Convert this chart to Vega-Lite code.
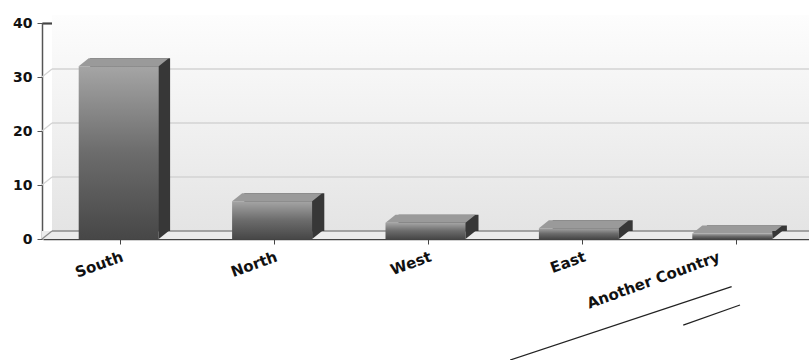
{
  "$schema": "https://vega.github.io/schema/vega-lite/v6.json",
  "width": 767,
  "height": 216,
  "autosize": {"type": "none"},
  "padding": {"left": 42, "top": 23, "right": 0, "bottom": 121},
  "background": "white",
  "config": {
    "view": {"stroke": null},
    "font": "DejaVu Sans",
    "axisY": {
      "grid": false,
      "labelFont": "DejaVu Sans",
      "labelFontWeight": "bold",
      "labelFontSize": 14,
      "labelColor": "#111111",
      "labelPadding": 5,
      "tickSize": 5,
      "tickColor": "#555555",
      "domainColor": "#555555",
      "domainWidth": 1.5,
      "zindex": 1
    },
    "axisX": {
      "grid": false,
      "labelAngle": -20,
      "labelAlign": "right",
      "labelBaseline": "top",
      "labelFont": "DejaVu Sans",
      "labelFontWeight": "bold",
      "labelFontSize": 15,
      "labelColor": "#111111",
      "labelPadding": 5,
      "labelOverlap": false,
      "tickSize": 5,
      "tickColor": "#444444",
      "domainColor": "#444444",
      "domainWidth": 1.5,
      "zindex": 1
    }
  },
  "datasets": {
    "sales": [
      {"region": "South", "count": 32},
      {"region": "North", "count": 7},
      {"region": "West", "count": 3},
      {"region": "East", "count": 2},
      {"region": "Another Country", "count": 1}
    ],
    "grid": [{"v": 10}, {"v": 20}, {"v": 30}],
    "strokes": [
      {"seg": "a", "u": 3.029, "v": -22.41},
      {"seg": "a", "u": 4.466, "v": -8.83},
      {"seg": "b", "u": 4.152, "v": -15.93},
      {"seg": "b", "u": 4.52, "v": -12.22}
    ]
  },
  "resolve": {"scale": {"x": "independent"}},
  "layer": [
    {
      "data": {"values": [{}]},
      "mark": {
        "type": "rect",
        "xOffset": 10,
        "yOffset": -8,
        "y2Offset": -8,
        "color": {
          "x1": 0, "y1": 0, "x2": 0, "y2": 1, "gradient": "linear",
          "stops": [{"offset": 0, "color": "#fdfdfd"}, {"offset": 1, "color": "#e4e4e4"}]
        }
      },
      "encoding": {
        "x": {"value": 0},
        "x2": {"value": "width"},
        "y": {"datum": 40, "type": "quantitative", "title": null, "scale": {"domain": [0, 40], "nice": false},
              "axis": {"values": [0, 10, 20, 30, 40]}},
        "y2": {"datum": 0}
      }
    },
    {
      "data": {"values": [{}]},
      "mark": {"type": "rect", "y2Offset": -8, "color": "#ececec"},
      "encoding": {
        "x": {"value": 0},
        "x2": {"value": "width"},
        "y": {"datum": 0, "type": "quantitative", "title": null, "axis": {"values": [0, 10, 20, 30, 40]}},
        "y2": {"datum": 0}
      }
    },
    {
      "data": {"name": "grid"},
      "mark": {"type": "rule", "yOffset": -8, "color": "#d3d3d3", "strokeWidth": 1.5},
      "encoding": {
        "x": {"value": 10},
        "x2": {"value": "width"},
        "y": {"field": "v", "type": "quantitative", "title": null, "axis": {"values": [0, 10, 20, 30, 40]}}
      }
    },
    {
      "data": {"name": "grid"},
      "mark": {"type": "rule", "y2Offset": -8, "color": "#d3d3d3", "strokeWidth": 1.2},
      "encoding": {
        "x": {"value": 0},
        "x2": {"value": 10},
        "y": {"field": "v", "type": "quantitative", "title": null, "axis": {"values": [0, 10, 20, 30, 40]}},
        "y2": {"field": "v"}
      }
    },
    {
      "data": {"values": [{}]},
      "mark": {"type": "rule", "yOffset": -8, "color": "#8c8c8c", "strokeWidth": 1.3},
      "encoding": {
        "x": {"value": 10},
        "x2": {"value": "width"},
        "y": {"datum": 0, "type": "quantitative", "title": null, "axis": {"values": [0, 10, 20, 30, 40]}}
      }
    },
    {
      "data": {"values": [{}]},
      "mark": {"type": "rule", "y2Offset": -8, "color": "#8c8c8c", "strokeWidth": 1.2},
      "encoding": {
        "x": {"value": 0},
        "x2": {"value": 10},
        "y": {"datum": 0, "type": "quantitative", "title": null, "axis": {"values": [0, 10, 20, 30, 40]}},
        "y2": {"datum": 0}
      }
    },
    {
      "data": {"name": "sales"},
      "mark": {"type": "bar", "width": 80, "xOffset": 10, "yOffset": -8, "y2Offset": -8, "color": "#373737"},
      "encoding": {
        "x": {"field": "region", "type": "nominal", "sort": null, "title": null,
              "scale": {"type": "band", "range": [1, 772], "paddingInner": 0, "paddingOuter": 0},
              "axis": {"labelOffset": {"condition": {"test": "datum.value === 'Another Country'", "value": -20}, "value": 0}}},
        "y": {"field": "count", "type": "quantitative", "title": null, "axis": {"values": [0, 10, 20, 30, 40]}},
        "y2": {"datum": 0}
      }
    },
    {
      "data": {"name": "sales"},
      "mark": {
        "type": "bar",
        "width": 80,
        "color": {
          "x1": 0, "y1": 0, "x2": 0, "y2": 1, "gradient": "linear",
          "stops": [{"offset": 0, "color": "#a5a5a5"}, {"offset": 0.5, "color": "#6c6c6c"}, {"offset": 1, "color": "#474747"}]
        }
      },
      "encoding": {
        "x": {"field": "region", "type": "nominal", "sort": null, "title": null,
              "axis": {"labelOffset": {"condition": {"test": "datum.value === 'Another Country'", "value": -20}, "value": 0}}},
        "y": {"field": "count", "type": "quantitative", "title": null, "axis": {"values": [0, 10, 20, 30, 40]}},
        "y2": {"datum": 0}
      }
    },
    {
      "data": {"name": "sales"},
      "mark": {"type": "point", "shape": "M -40 0 L 40 0 L 50 -8 L -30 -8 Z", "size": 4, "filled": true, "opacity": 1, "strokeWidth": 0, "color": "#9a9a9a"},
      "encoding": {
        "x": {"field": "region", "type": "nominal", "sort": null, "title": null,
              "axis": {"labelOffset": {"condition": {"test": "datum.value === 'Another Country'", "value": -20}, "value": 0}}},
        "y": {"field": "count", "type": "quantitative", "title": null, "axis": {"values": [0, 10, 20, 30, 40]}}
      }
    },
    {
      "data": {"name": "sales"},
      "mark": {"type": "point", "shape": "M 40 -8 L 40 0 L 50 -8 Z", "size": 4, "filled": true, "opacity": 1, "strokeWidth": 0, "color": "#373737"},
      "encoding": {
        "x": {"field": "region", "type": "nominal", "sort": null, "title": null,
              "axis": {"labelOffset": {"condition": {"test": "datum.value === 'Another Country'", "value": -20}, "value": 0}}},
        "y": {"datum": 0, "type": "quantitative", "title": null, "axis": {"values": [0, 10, 20, 30, 40]}}
      }
    },
    {
      "data": {"name": "strokes"},
      "mark": {"type": "line", "color": "#222222", "strokeWidth": 1.3},
      "encoding": {
        "x": {"field": "u", "type": "quantitative", "axis": null, "scale": {"domain": [0, 5], "range": [1, 772], "nice": false, "zero": false}},
        "y": {"field": "v", "type": "quantitative", "title": null, "axis": {"values": [0, 10, 20, 30, 40]}},
        "detail": {"field": "seg"}
      }
    }
  ]
}
